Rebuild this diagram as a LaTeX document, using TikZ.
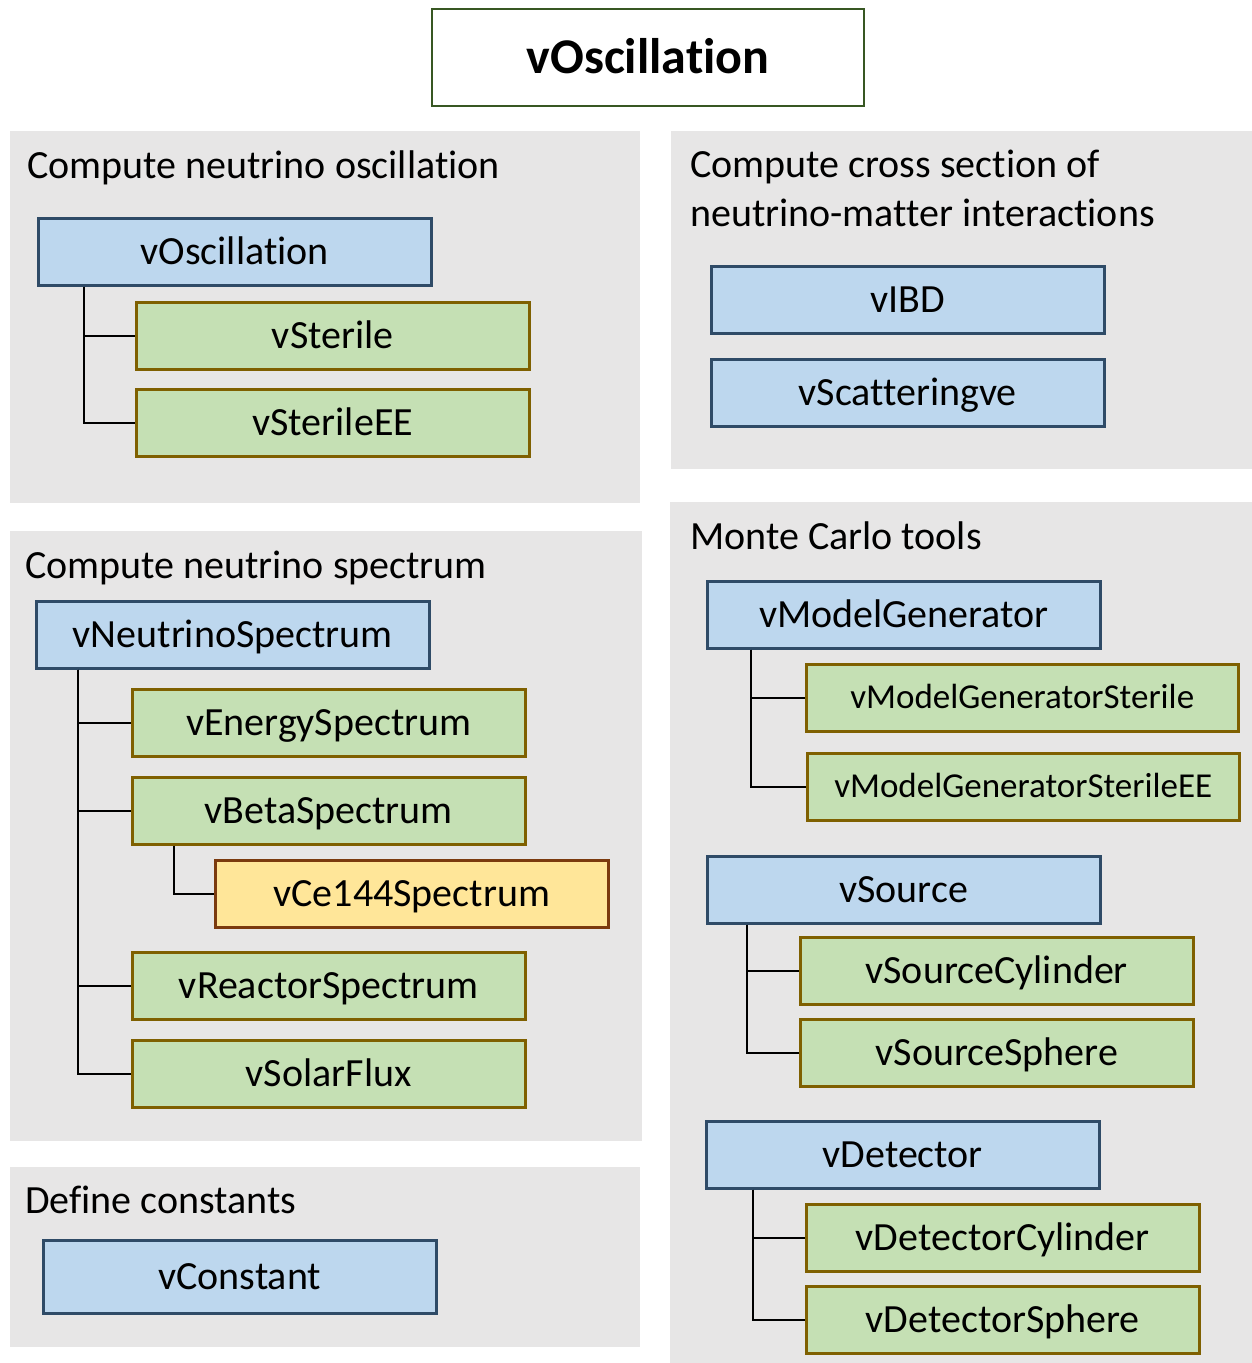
\documentclass[tikz,border=0pt]{standalone}
\usepackage{fontspec}
\setmainfont{Carlito}[Ligatures=NoCommon]
\definecolor{panel}{HTML}{E7E6E6}
\definecolor{bluef}{HTML}{BDD7EE}
\definecolor{blued}{HTML}{2F4B67}
\definecolor{greenf}{HTML}{C5E0B4}
\definecolor{greend}{HTML}{7F6000}
\definecolor{yellf}{HTML}{FFE699}
\definecolor{yelld}{HTML}{7B3A0E}
\definecolor{titled}{HTML}{385723}
\begin{document}
\begin{tikzpicture}[x=1pt,y=-1pt,
  box/.style={anchor=north west, inner sep=0pt, line width=2.5pt, minimum width=393pt, minimum height=67pt,
    font=\fontsize{40}{46}\selectfont, text height=25.5pt, text depth=0pt},
  bbox/.style={box, fill=bluef, draw=blued},
  gbox/.style={box, fill=greenf, draw=greend},
  ybox/.style={box, fill=yellf, draw=yelld},
  smalltext/.style={font=\fontsize{35}{40}\selectfont, text height=22.3pt},
  lbl/.style={anchor=base west, inner sep=0pt, font=\fontsize{40}{46}\selectfont},
  pnl/.style={fill=panel, draw=none},
  conn/.style={line width=2pt, black}]
\useasboundingbox (0,0) rectangle (1252,1363);
% panels
\fill[pnl] (10,131) rectangle (640,503);
\fill[pnl] (671,131) rectangle (1252,469);
\fill[pnl] (10,531) rectangle (642,1141);
\fill[pnl] (10,1167) rectangle (640,1347);
\fill[pnl] (670,502) rectangle (1252,1363);
% title
\node[anchor=north west, draw=titled, line width=2pt, minimum width=432pt, minimum height=97pt, inner sep=0pt,
  font=\bfseries\fontsize{50}{56}\selectfont, text height=32pt, text depth=0pt] (title) at (431,8) {vOscillation};
% labels
\node[lbl] (l1) at (27,178) {Compute neutrino oscillation};
\node[lbl] (l2a) at (690,177) {Compute cross section of};
\node[lbl] (l2b) at (690,226) {neutrino-matter interactions};
\node[lbl] (l3) at (25,578) {Compute neutrino spectrum};
\node[lbl] (l4) at (25,1213) {Define constants};
\node[lbl] (l5) at (690,549) {Monte Carlo tools};
% panel 1
\node[bbox] (osc) at (37,217) {vOscillation};
\node[gbox] (ster) at (135,301) {vSterile};
\node[gbox] (sterEE) at (135,388) {vSterileEE};
\draw[conn] ([xshift=47pt]osc.south west) |- (sterEE.west);
\draw[conn] ([xshift=47pt]osc.south west) |- (ster.west);
% panel 2
\node[bbox] (ibd) at (710,265) {vIBD};
\node[bbox] (scat) at (710,358) {vScatteringve};
% panel 3
\node[bbox] (ns) at (35,600) {vNeutrinoSpectrum};
\node[gbox] (es) at (131,688) {vEnergySpectrum};
\node[gbox] (bs) at (131,776) {vBetaSpectrum};
\node[ybox] (ce) at (214,859) {vCe144Spectrum};
\node[gbox] (rs) at (131,951) {vReactorSpectrum};
\node[gbox] (sf) at (131,1039) {vSolarFlux};
\draw[conn] ([xshift=43pt]ns.south west) |- (sf.west);
\draw[conn] ([xshift=43pt]ns.south west) |- (es.west);
\draw[conn] ([xshift=43pt]ns.south west) |- (bs.west);
\draw[conn] ([xshift=43pt]ns.south west) |- (rs.west);
\draw[conn] ([xshift=43pt]bs.south west) |- (ce.west);
% panel 4
\node[bbox, minimum height=73pt] (const) at (42,1239) {vConstant};
% panel 5
\node[bbox] (mg) at (706,580) {vModelGenerator};
\node[gbox, minimum width=432pt, smalltext] (mgs) at (805,663) {vModelGeneratorSterile};
\node[gbox, minimum width=432pt, smalltext] (mgsee) at (806,752) {vModelGeneratorSterileEE};
\draw[conn] ([xshift=45pt]mg.south west) |- (mgsee.west);
\draw[conn] ([xshift=45pt]mg.south west) |- (mgs.west);
\node[bbox] (src) at (706,855) {vSource};
\node[gbox] (srcc) at (799,936) {vSourceCylinder};
\node[gbox] (srcs) at (799,1018) {vSourceSphere};
\draw[conn] ([xshift=41pt]src.south west) |- (srcs.west);
\draw[conn] ([xshift=41pt]src.south west) |- (srcc.west);
\node[bbox] (det) at (705,1120) {vDetector};
\node[gbox] (detc) at (805,1203) {vDetectorCylinder};
\node[gbox] (dets) at (805,1285) {vDetectorSphere};
\draw[conn] ([xshift=48pt]det.south west) |- (dets.west);
\draw[conn] ([xshift=48pt]det.south west) |- (detc.west);
\end{tikzpicture}
\end{document}
